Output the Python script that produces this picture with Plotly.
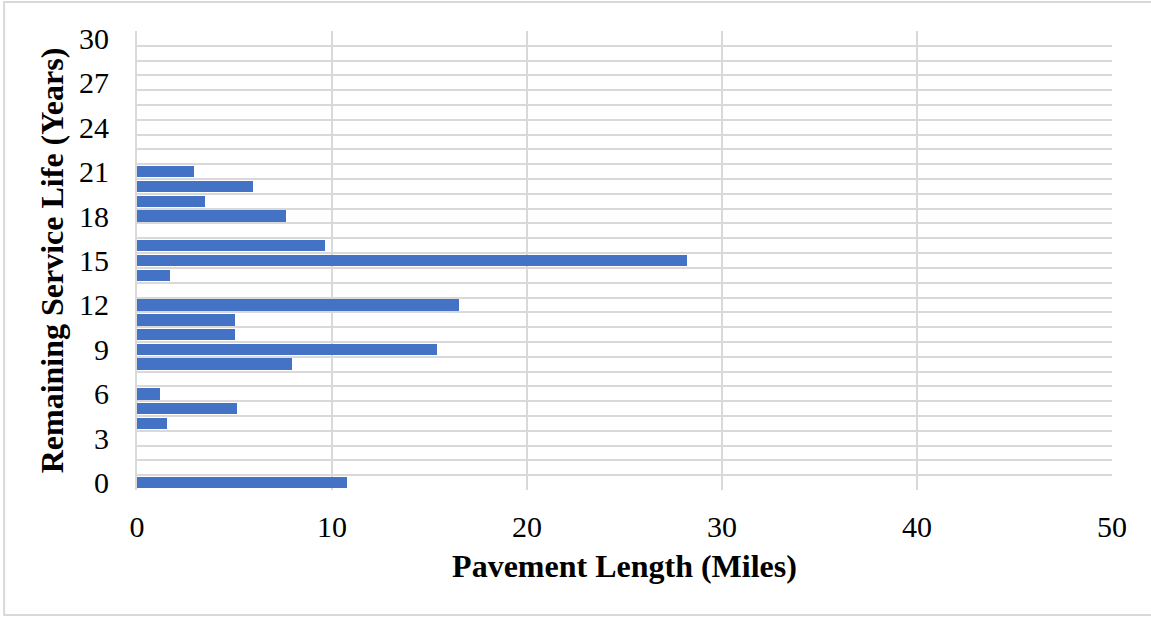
import plotly.graph_objects as go

# Remaining service life (years) and pavement length (miles) per year
service_life_years = [0, 4, 5, 6, 8, 9, 10, 11, 12, 14, 15, 16, 18, 19, 20, 21]
pavement_miles = [10.75, 1.55, 5.12, 1.2, 7.95, 15.38, 5.03, 5.05, 16.5, 1.7, 28.18, 9.63, 7.63, 3.5, 5.95, 2.93]

y_tick_values = list(range(0, 31, 3))
x_tick_values = [0, 10, 20, 30, 40, 50]

BAR_COLOR = "#4472C4"
GRID_COLOR = "#D9D9D9"
FONT = "Liberation Serif, Times New Roman, serif"

fig = go.Figure(
    go.Bar(
        x=pavement_miles,
        y=service_life_years,
        orientation="h",
        width=0.78,
        marker=dict(color=BAR_COLOR, line=dict(width=0)),
    )
)

fig.update_layout(
    width=1151,
    height=617,
    margin=dict(l=137, r=39, t=31, b=127),
    paper_bgcolor="white",
    plot_bgcolor="white",
    font=dict(family=FONT, size=30, color="black"),
    showlegend=False,
    bargap=0,
    xaxis=dict(
        range=[0, 50],
        tickvals=x_tick_values,
        showgrid=True,
        gridcolor=GRID_COLOR,
        gridwidth=2,
        zeroline=False,
        showline=False,
        ticks="",
        ticklabelstandoff=16,
        tickfont=dict(family=FONT, size=30),
        title=dict(text="<b>Pavement Length (Miles)</b>", font=dict(family=FONT, size=32), standoff=12),
    ),
    yaxis=dict(
        range=[-0.5, 30.5],
        tickvals=y_tick_values,
        showgrid=False,
        zeroline=False,
        showline=True,
        linecolor=GRID_COLOR,
        linewidth=2,
        ticks="",
        ticklabelstandoff=20,
        tickfont=dict(family=FONT, size=30),
        minor=dict(
            tickvals=[v + 0.5 for v in range(-1, 31)],
            showgrid=True,
            gridcolor=GRID_COLOR,
            gridwidth=2,
            ticks="",
        ),
        title=dict(text="<b>Remaining Service Life (Years)</b>", font=dict(family=FONT, size=32), standoff=6),
    ),
    shapes=[
        dict(
            type="rect",
            xref="paper",
            yref="paper",
            x0=-0.1363,
            x1=1.06,
            y0=-0.2723,
            y1=1.0632,
            line=dict(color="#D9D9D9", width=2),
            fillcolor="rgba(0,0,0,0)",
            layer="below",
        )
    ],
)

fig.write_html("out.html")
